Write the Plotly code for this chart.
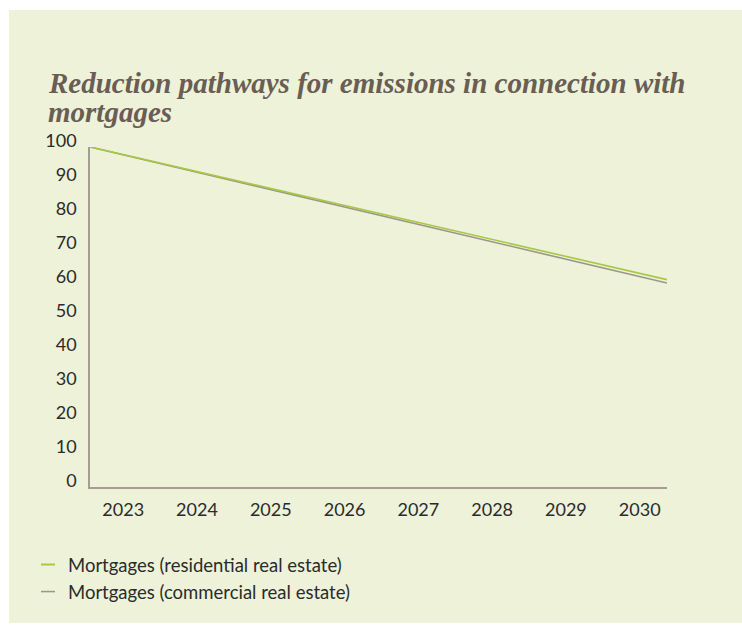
import plotly.graph_objects as go

# ---- data ----
years = [2023, 2024, 2025, 2026, 2027, 2028, 2029, 2030]
year_labels = ["2023", "2024", "2025", "2026", "2027", "2028", "2029", "2030"]
residential = [100, 94.4, 88.9, 83.3, 77.7, 72.1, 66.6, 61]
commercial = [100, 94.3, 88.6, 82.9, 77.1, 71.4, 65.7, 60]
y_ticks = [0, 10, 20, 30, 40, 50, 60, 70, 80, 90, 100]
series_names = ["Mortgages (residential real estate)", "Mortgages (commercial real estate)"]
title_lines = ["Reduction pathways for emissions in connection with", "mortgages"]

GREEN = "#a6c942"
GREY = "#9d958b"
BG = "#edf2d9"
AXIS = "#a39d93"
TITLE_C = "#6a5d53"
TEXT_C = "#2b2b2b"
SANS = "Lato, 'Open Sans', sans-serif"
SERIF = "'Liberation Serif', serif"

W, H = 742, 627
ML, MR, MT, MB = 90, 75, 147, 140
PW, PH = W - ML - MR, H - MT - MB


def px_x(px):
    return (px - ML) / PW


def px_y(py):
    return (MT + PH - py) / PH


fig = go.Figure()

# commercial drawn first so residential sits on top
fig.add_trace(go.Scatter(x=years, y=commercial, mode="lines", name=series_names[1],
                         line=dict(color=GREY, width=1.6), showlegend=False, hoverinfo="skip"))
fig.add_trace(go.Scatter(x=years, y=residential, mode="lines", name=series_names[0],
                         line=dict(color=GREEN, width=1.6), showlegend=False, hoverinfo="skip"))

# legend entries (short dash symbols)
fig.add_trace(go.Scatter(x=[None], y=[None], mode="markers", name=series_names[0],
                         marker=dict(symbol="line-ew-open", size=10, color=GREEN,
                                     line=dict(color=GREEN, width=2)),
                         legendrank=1))
fig.add_trace(go.Scatter(x=[None], y=[None], mode="markers", name=series_names[1],
                         marker=dict(symbol="line-ew-open", size=10, color=GREY,
                                     line=dict(color=GREY, width=1.5)),
                         legendrank=2))

# label axis trace
fig.add_trace(go.Scatter(x=years, y=[None] * len(years), xaxis="x2", mode="lines",
                         showlegend=False, hoverinfo="skip"))

annotations = [
    dict(text="<b><i>" + title_lines[0] + "</i></b>", xref="paper", yref="paper",
         x=px_x(46), y=px_y(83), xanchor="left", yanchor="middle", showarrow=False,
         font=dict(family=SERIF, size=29, color=TITLE_C)),
    dict(text="<b><i>" + title_lines[1] + "</i></b>", xref="paper", yref="paper",
         x=px_x(46), y=px_y(112), xanchor="left", yanchor="middle", showarrow=False,
         font=dict(family=SERIF, size=29, color=TITLE_C)),
]

fig.update_layout(
    width=W, height=H,
    margin=dict(l=ML, r=MR, t=MT, b=MB),
    paper_bgcolor="white",
    plot_bgcolor="rgba(0,0,0,0)",
    showlegend=True,
    annotations=annotations,
    shapes=[dict(
        type="rect", xref="paper", yref="paper", layer="below",
        x0=px_x(9), x1=px_x(W), y0=px_y(623), y1=px_y(10),
        fillcolor=BG, line=dict(width=0),
    )],
    xaxis=dict(
        range=[years[0], years[-1]],
        showgrid=False, zeroline=False,
        showline=True, linecolor=AXIS, linewidth=2,
        showticklabels=False, ticks="",
        fixedrange=True,
    ),
    xaxis2=dict(
        overlaying="x", anchor="y", side="bottom",
        range=[2022.55, 2030.37],
        tickvals=years, ticktext=year_labels,
        showgrid=False, zeroline=False, showline=False, ticks="",
        tickfont=dict(family=SANS, size=18, color=TEXT_C),
        ticklabelstandoff=10,
        fixedrange=True,
    ),
    yaxis=dict(
        range=[0, 100],
        tickvals=y_ticks,
        showgrid=False, zeroline=False,
        showline=True, linecolor=AXIS, linewidth=1.5,
        ticks="",
        tickfont=dict(family=SANS, size=18, color=TEXT_C),
        ticklabelshift=-6,
        ticklabelstandoff=8,
        fixedrange=True,
    ),
    legend=dict(
        x=px_x(28), xanchor="left",
        y=px_y(546), yanchor="top",
        font=dict(family=SANS, size=18.5, color=TEXT_C),
        bgcolor="rgba(0,0,0,0)",
        itemwidth=30,
        tracegroupgap=0,
    ),
)

fig.write_html(
    "out.html",
    config={"displayModeBar": False},
    post_script=(
        "document.body.style.margin='0';"
        "document.documentElement.style.overflow='hidden';"
        "document.body.style.overflow='hidden';"
    ),
)
